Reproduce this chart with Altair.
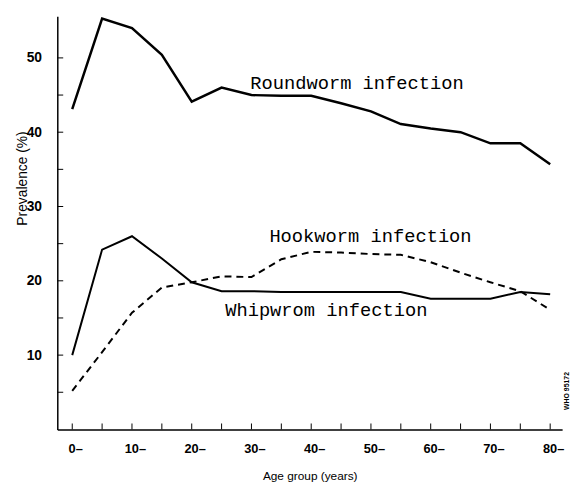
import altair as alt
import pandas as pd

# ---- data ----
ages = [0, 5, 10, 15, 20, 25, 30, 35, 40, 45, 50, 55, 60, 65, 70, 75, 80]
roundworm = [43.1, 55.3, 54.0, 50.4, 44.1, 46.0, 45.0, 44.9, 44.9, 43.9, 42.8, 41.1, 40.5, 40.0, 38.5, 38.5, 35.7]
whipworm = [10.0, 24.2, 26.0, 23.0, 19.8, 18.6, 18.6, 18.5, 18.5, 18.5, 18.5, 18.5, 17.6, 17.6, 17.6, 18.5, 18.2]
hookworm = [5.2, 10.4, 15.7, 19.1, 19.8, 20.6, 20.5, 22.9, 23.9, 23.8, 23.6, 23.5, 22.5, 21.1, 19.8, 18.6, 16.1]

x_tick_values = [0, 5, 10, 15, 20, 25, 30, 35, 40, 45, 50, 55, 60, 65, 70, 75, 80]
x_label_values = [0, 5, 10, 20, 30, 40, 50, 60, 70, 80]
y_tick_values = [5, 10, 15, 20, 25, 30, 35, 40, 45, 50]
y_label_values = [10, 20, 30, 40, 50]

label_texts = ["Roundworm infection", "Hookworm infection", "Whipwrom infection"]
label_ages = [29.8, 33.0, 25.6]
label_values = [46.6, 26.0, 16.1]

note_text = "WHO 95172"

# ---- tables ----
df_round = pd.DataFrame({"age": ages, "value": roundworm})
df_whip = pd.DataFrame({"age": ages, "value": whipworm})
df_hook = pd.DataFrame({"age": ages, "value": hookworm})
df_xt = pd.DataFrame({"age": x_tick_values})
df_yt = pd.DataFrame({"value": y_tick_values})
df_lab = pd.DataFrame({"age": label_ages, "value": label_values, "text": label_texts})

W, H = 512, 419
x_scale = alt.Scale(domain=[-2.5, 82], nice=False, zero=False)
y_scale = alt.Scale(domain=[0, 55.6], nice=False, zero=False)

tick_font = "Liberation Sans"
label_expr = ("indexof([" + ",".join(str(v) for v in x_label_values) +
              "], datum.value) >= 0 ? datum.value + '\u2013' : ''")

x_axis = alt.Axis(values=x_tick_values, labelExpr=label_expr, ticks=False, grid=False,
                  domainColor="black", domainWidth=1.5, labelFont=tick_font,
                  labelFontSize=13, labelFontWeight="bold", labelColor="black",
                  labelPadding=13, labelOffset=3, labelFlush=False,
                  title="Age group (years)", titleFont="Liberation Sans",
                  titleFontSize=12, titleFontWeight="normal", titleColor="black",
                  titlePadding=16)
y_axis = alt.Axis(values=y_label_values, ticks=False, grid=False,
                  domainColor="black", domainWidth=1.5, labelFont=tick_font,
                  labelFontSize=14, labelFontWeight="bold", labelColor="black",
                  labelPadding=16, labelFlush=False,
                  title="Prevalence (%)", titleFont="Liberation Sans",
                  titleFontSize=14, titleFontWeight="normal", titleColor="black",
                  titleX=-35, titleY=164, titleAngle=270, titleAlign="center",
                  titleBaseline="middle")

X = alt.X("age:Q", scale=x_scale, axis=x_axis)
Y = alt.Y("value:Q", scale=y_scale, axis=y_axis)

round_line = alt.Chart(df_round).mark_line(color="black", strokeWidth=2.5).encode(x=X, y=Y)
whip_line = alt.Chart(df_whip).mark_line(color="black", strokeWidth=2).encode(x="age:Q", y="value:Q")
hook_line = alt.Chart(df_hook).mark_line(color="black", strokeWidth=2, strokeDash=[7, 5]).encode(
    x="age:Q", y="value:Q")

x_ticks = alt.Chart(df_xt).mark_rule(color="black", strokeWidth=1).encode(
    x="age:Q", y=alt.value(H), y2=alt.value(H - 6))
y_ticks = alt.Chart(df_yt).mark_rule(color="black", strokeWidth=1).encode(
    y="value:Q", x=alt.value(0), x2=alt.value(6))

labels = alt.Chart(df_lab).mark_text(align="left", baseline="middle", font="Liberation Mono",
                                     fontSize=19, color="black").encode(
    x="age:Q", y="value:Q", text="text:N")

note = alt.Chart(pd.DataFrame({"t": [note_text]})).mark_text(
    angle=270, fontSize=7, font="Liberation Sans", fontWeight="bold", color="black",
    align="center", baseline="middle").encode(
    x=alt.value(W + 5), y=alt.value(380), text="t:N")

chart = alt.layer(round_line, whip_line, hook_line, x_ticks, y_ticks, labels, note).properties(
    width=W, height=H,
    autosize=alt.AutoSizeParams(type="none"),
    padding={"left": 50, "top": 5, "right": 9, "bottom": 55},
    background="white",
).configure_view(stroke=None)

chart.save("out.html", embed_options={"renderer": "svg", "actions": False})
